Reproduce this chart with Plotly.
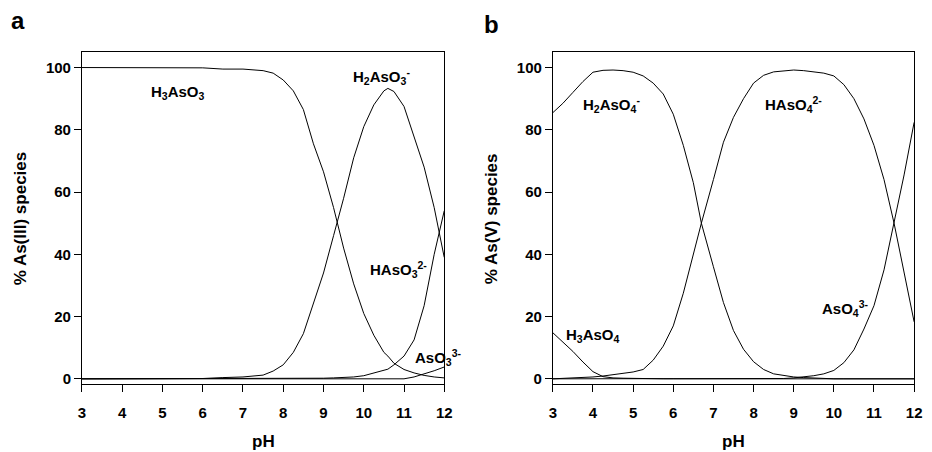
import plotly.graph_objects as go

# ---------------- Panel a : As(III) ----------------
ph_a = [3, 4, 5, 6, 6.5, 7, 7.5, 7.75, 8, 8.25, 8.5, 8.75, 9, 9.25, 9.5, 9.75,
        10, 10.25, 10.5, 10.6, 10.75, 11, 11.25, 11.5, 11.75, 12]
h3aso3 = [100, 100, 100, 99.9, 99.5, 99.5, 99.0, 98.2, 96, 92.5, 86.5, 75.5, 66.5, 55,
          42, 30.5, 21, 14, 8.5, 7.3, 5, 3, 1.9, 1.1, 0.6, 0.3]
h2aso3 = [0, 0, 0, 0.1, 0.4, 0.6, 1.2, 2.5, 4.5, 8.5, 14.5, 24, 34, 46, 58, 71,
          81, 88, 92.5, 93.3, 92.3, 87.5, 78, 68, 55, 39]
haso3 = [0, 0, 0, 0, 0, 0, 0, 0, 0, 0, 0, 0.1, 0.2, 0.3, 0.4, 0.6,
         1.0, 1.8, 2.7, 3.1, 4.5, 7.3, 12.5, 23.5, 40, 54]
aso3 = [0, 0, 0, 0, 0, 0, 0, 0, 0, 0, 0, 0, 0, 0, 0, 0,
        0, 0, 0, 0, 0, 0, 0.6, 1.5, 2.6, 3.8]

# ---------------- Panel b : As(V) ----------------
ph_b = [3, 3.25, 3.5, 3.75, 4, 4.25, 4.5, 4.75, 5, 5.25, 5.5, 5.75, 6, 6.25, 6.5, 6.7,
        7, 7.25, 7.5, 7.75, 8, 8.25, 8.5, 8.75, 9, 9.25, 9.5, 9.75, 10, 10.25, 10.5,
        10.75, 11, 11.25, 11.5, 11.75, 12]
h3aso4 = [14.8, 11.8, 8.8, 5.4, 2.3, 0.7, 0.3, 0.2, 0.1, 0.1, 0, 0, 0, 0, 0, 0,
          0, 0, 0, 0, 0, 0, 0, 0, 0, 0, 0, 0, 0, 0, 0,
          0, 0, 0, 0, 0, 0]
h2aso4 = [85.5, 88.5, 92, 95.5, 98.5, 99.1, 99.2, 99, 98.5, 97.3, 95, 91.5, 85, 75, 63, 50,
          36, 24.5, 15.5, 9.5, 5.5, 3, 1.6, 1, 0.6, 0.4, 0.2, 0.1, 0, 0, 0,
          0, 0, 0, 0, 0, 0]
haso4 = [0, 0.1, 0.3, 0.4, 0.6, 0.9, 1.3, 1.8, 2.2, 3, 6, 10.5, 17, 27.5, 40, 50,
         64, 76, 84, 90, 95, 97.5, 98.6, 99, 99.2, 99, 98.7, 98.2, 97.3, 94.5, 90,
         83.5, 75, 64, 50, 34.5, 18.3]
aso4 = [0, 0, 0, 0, 0, 0, 0, 0, 0, 0, 0, 0, 0, 0, 0, 0,
        0, 0, 0, 0, 0, 0, 0, 0.1, 0.3, 0.6, 1, 1.6, 2.7, 5.2, 9.3,
        16, 23.5, 35, 50, 65.5, 82.4]

x_ticks = [3, 4, 5, 6, 7, 8, 9, 10, 11, 12]
y_ticks = [0, 20, 40, 60, 80, 100]

FONT = "Liberation Sans, Arial, Helvetica, sans-serif"

fig = go.Figure()
line = dict(color="black", width=1)
for y in (h3aso3, h2aso3, haso3, aso3):
    fig.add_trace(go.Scatter(x=ph_a, y=y, mode="lines", line=line,
                             xaxis="x", yaxis="y", showlegend=False, hoverinfo="skip"))
for y in (h3aso4, h2aso4, haso4, aso4):
    fig.add_trace(go.Scatter(x=ph_b, y=y, mode="lines", line=line,
                             xaxis="x2", yaxis="y2", showlegend=False, hoverinfo="skip"))

W, H = 932, 452
def px(xp):
    return xp / W
def py(yp):
    return (H - yp) / H

ax_common = dict(showline=True, linecolor="black", linewidth=1, mirror=True,
                 ticks="outside", ticklen=7, tickwidth=1, tickcolor="black",
                 showgrid=False, zeroline=False,
                 tickfont=dict(family=FONT, size=15, color="black", weight="bold"))

yd = [py(387), py(52)]
fig.update_layout(
    width=W, height=H, autosize=False,
    margin=dict(l=0, r=0, t=0, b=0),
    paper_bgcolor="white", plot_bgcolor="white",
    xaxis=dict(domain=[px(79), px(446)], range=[3, 12], tickvals=x_ticks,
               anchor="y", ticklabelstandoff=8, **ax_common),
    yaxis=dict(domain=yd, range=[-1.8, 105.1], tickvals=y_ticks,
               anchor="x", **ax_common),
    xaxis2=dict(domain=[px(556), px(922)], range=[3, 12], tickvals=x_ticks,
                anchor="y2", ticklabelstandoff=8, **ax_common),
    yaxis2=dict(domain=yd, range=[-1.8, 105.1], tickvals=y_ticks,
                anchor="x2", **ax_common),
)

ann = []
def species(text, x, y, xref, yref):
    ann.append(dict(text=text, x=x, y=y, xref=xref, yref=yref, showarrow=False,
                    font=dict(family=FONT, size=15, color="black", weight="bold"),
                    xanchor="center", yanchor="middle"))

species("H<sub>3</sub>AsO<sub>3</sub>", 5.38, 92, "x", "y")
species("H<sub>2</sub>AsO<sub>3</sub><sup>-</sup>", 10.45, 97, "x", "y")
species("HAsO<sub>3</sub><sup>2-</sup>", 10.87, 35, "x", "y")
species("AsO<sub>3</sub><sup>3-</sup>", 11.85, 7, "x", "y")
species("H<sub>2</sub>AsO<sub>4</sub><sup>-</sup>", 4.45, 88, "x2", "y2")
species("HAsO<sub>4</sub><sup>2-</sup>", 9.0, 88, "x2", "y2")
species("H<sub>3</sub>AsO<sub>4</sub>", 4.0, 14, "x2", "y2")
species("AsO<sub>4</sub><sup>3-</sup>", 10.28, 22.5, "x2", "y2")

def ptext(text, xp, yp, size, angle=0):
    ann.append(dict(text=text, x=px(xp), y=py(yp), xref="paper", yref="paper",
                    showarrow=False, textangle=angle,
                    font=dict(family=FONT, size=size, color="black", weight="bold"),
                    xanchor="center", yanchor="middle"))

ptext("a", 14, 21, 24)
ptext("b", 494, 25, 24)
ptext("pH", 262.5, 444, 17)
ptext("pH", 739, 444, 17)
ptext("% As(III) species", 17, 220, 17, -90)
ptext("% As(V) species", 494, 220, 17, -90)

fig.update_layout(annotations=ann)
fig.write_html(
    "out.html",
    config={"responsive": False, "displayModeBar": False},
    post_script="document.body.style.margin='0';document.body.style.overflow='hidden';"
                "Plotly.relayout(document.getElementById('{plot_id}'), {width: 932, height: 452});",
)
